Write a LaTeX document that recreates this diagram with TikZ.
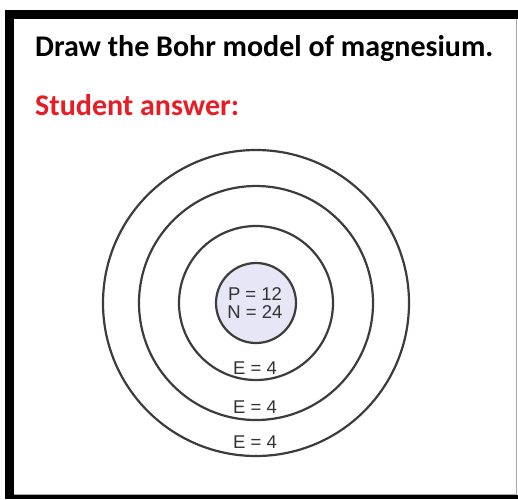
\documentclass[tikz,border=0pt]{standalone}
\usepackage{fontspec}
\setmainfont{Carlito}
\newfontfamily\labelfont{Liberation Sans}
\usetikzlibrary{positioning}
\definecolor{answerred}{RGB}{232,28,36}
\definecolor{shellgray}{RGB}{60,60,60}
\definecolor{nucleusfill}{RGB}{230,230,246}
\tikzset{
  shell/.style={draw=shellgray,line width=2.2pt},
  lbl/.style={font=\labelfont\fontsize{18.5}{20}\selectfont,text=black!80,inner sep=0pt}
}

\begin{document}
\begin{tikzpicture}[x=1pt,y=-1pt]
\useasboundingbox (0,0) rectangle (518,499);
% frame
\fill[white] (0,0) rectangle (518,499);
\draw[gray!70,line width=1pt] (516,19) -- (516,495) (14,494) -- (516,494);
\fill[black] (5,10) rectangle (518,19);
\fill[black] (5,10) rectangle (14,499);
\fill[black] (5,495) rectangle (518,499);
% question
\node[anchor=base west,inner sep=0pt,font=\bfseries\fontsize{30}{36}\selectfont] (question) at (35,56) {Draw the Bohr model of magnesium.};
\node[anchor=base west,inner sep=0pt,text=answerred,font=\bfseries\fontsize{30}{36}\selectfont] (answer) at (35,115) {Student answer:};
% atom
\coordinate (centre) at (256,303);
\draw[shell] (centre) circle (153);
\draw[shell] (centre) circle (117);
\draw[shell] (centre) circle (77);
\draw[shell,fill=nucleusfill] (centre) circle (40);
\node[lbl,align=center] (nucleus) at (255,303) {P = 12\\[-2pt]N = 24};
\node[lbl] (shellA) at (255,368) {E = 4};
\node[lbl] (shellB) at (255,407) {E = 4};
\node[lbl] (shellC) at (255,442) {E = 4};
\end{tikzpicture}
\end{document}
